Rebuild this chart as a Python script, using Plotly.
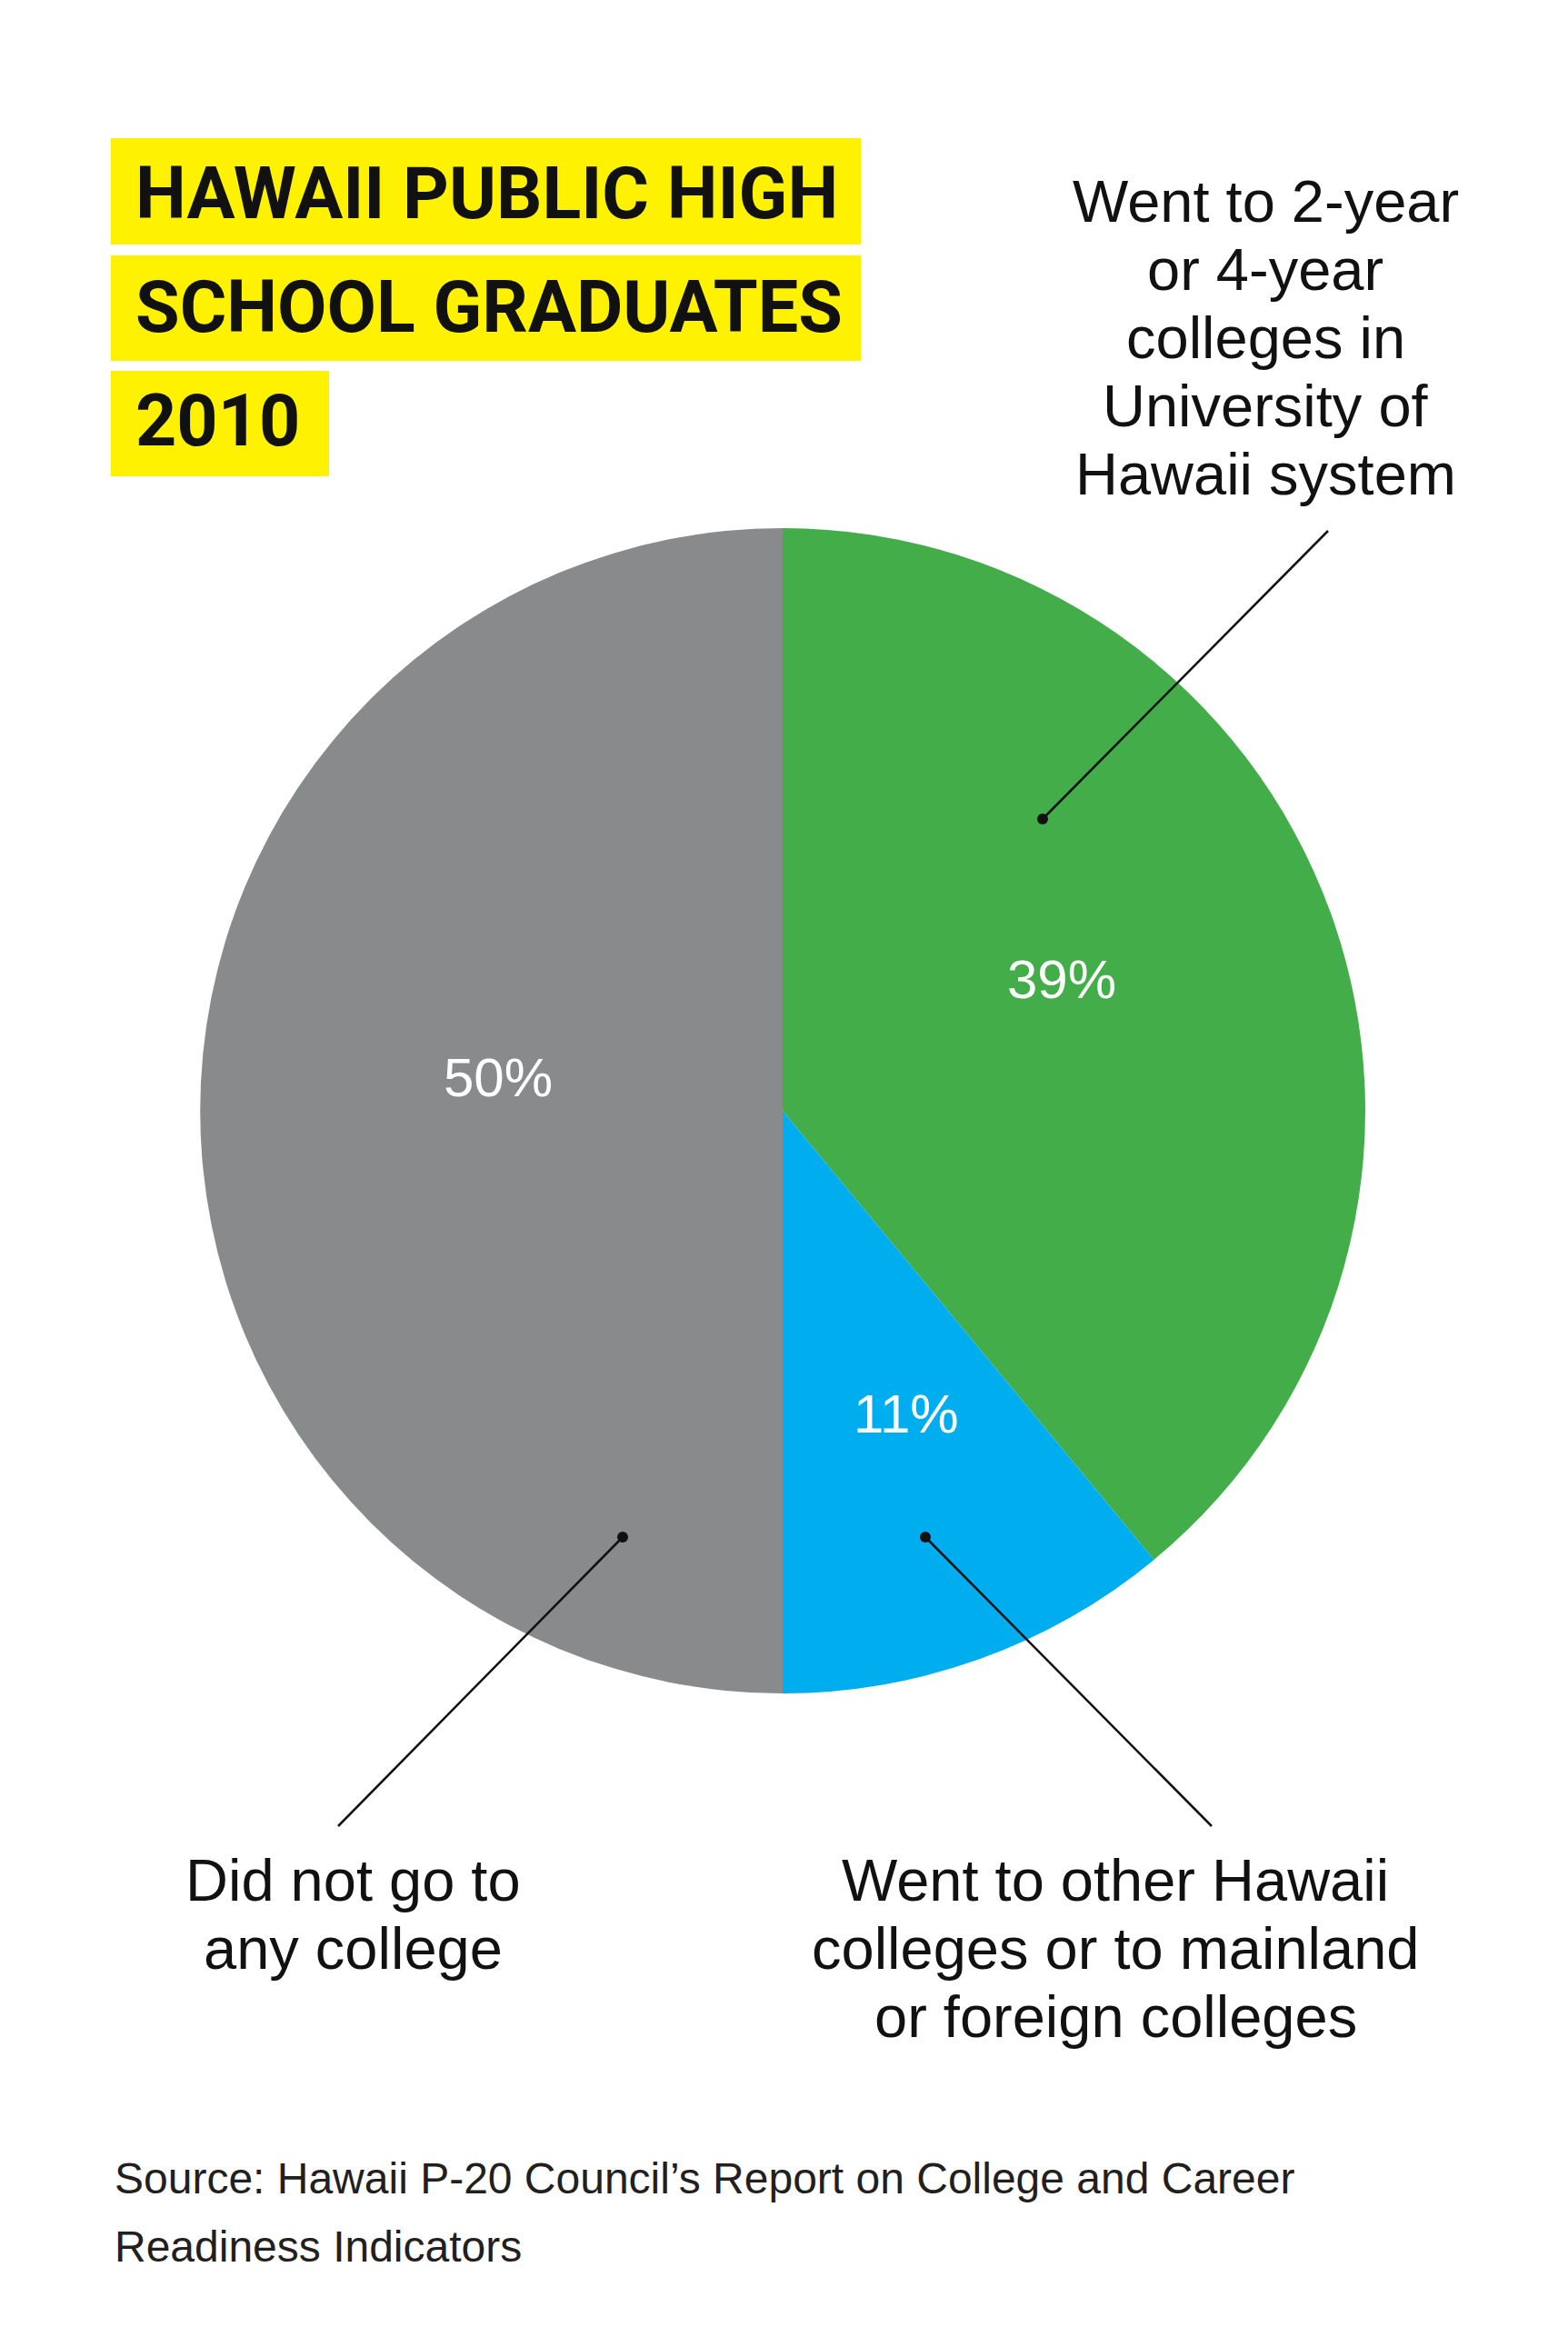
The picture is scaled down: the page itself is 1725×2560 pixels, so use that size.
import plotly.graph_objects as go

W, H = 1725, 2560

# ---- data ----
categories = [
    "Went to 2-year or 4-year colleges in University of Hawaii system",
    "Went to other Hawaii colleges or to mainland or foreign colleges",
    "Did not go to any college",
]
shares = [39, 11, 50]
colors = ["#43AD4A", "#00AEEF", "#898A8C"]
pct_labels = ["39%", "11%", "50%"]

title_lines = ["HAWAII PUBLIC HIGH", "SCHOOL GRADUATES", "2010"]
label_green = ["Went to 2-year", "or 4-year", "colleges in", "University of", "Hawaii system"]
label_blue = ["Went to other Hawaii", "colleges or to mainland", "or foreign colleges"]
label_gray = ["Did not go to", "any college"]
source_lines = ["Source: Hawaii P-20 Council\u2019s Report on College and Career",
                "Readiness Indicators"]


def px(x, y):
    return x / W, 1 - y / H


# pie geometry (pixels)
cx, cy, R = 861, 1222, 641

fig = go.Figure()
fig.add_trace(go.Pie(
    labels=categories,
    values=shares,
    marker=dict(colors=colors, line=dict(width=0)),
    sort=False,
    direction="clockwise",
    rotation=0,
    textinfo="none",
    hoverinfo="label+percent",
    showlegend=False,
    domain=dict(x=[(cx - R) / W, (cx + R) / W], y=[1 - (cy + R) / H, 1 - (cy - R) / H]),
))

shapes = []
annotations = []

# yellow title boxes
boxes = [(122, 152, 947, 269), (122, 281, 947, 397), (122, 408, 362, 524)]
for (x0, y0, x1, y1) in boxes:
    a0, b0 = px(x0, y0)
    a1, b1 = px(x1, y1)
    shapes.append(dict(type="rect", xref="paper", yref="paper", x0=a0, x1=a1, y0=b1, y1=b0,
                       fillcolor="#FFF200", line=dict(width=0), layer="below"))

title_font = dict(family="Roboto, Liberation Sans, sans-serif",
                  size=79, color="#111111", weight="bold")
for line, yc in zip(title_lines, [213, 338, 463]):
    x, y = px(147, yc)
    annotations.append(dict(text=line, x=x, y=y, xref="paper", yref="paper",
                            xanchor="left", yanchor="middle", showarrow=False, font=title_font))

lab_font = dict(family="Liberation Sans, Arial, sans-serif", size=65, color="#111111")


def add_lines(lines, xc, y_first, step=75):
    for i, line in enumerate(lines):
        x, y = px(xc, y_first + i * step)
        annotations.append(dict(text=line, x=x, y=y, xref="paper", yref="paper",
                                xanchor="center", yanchor="middle", showarrow=False, font=lab_font))


add_lines(label_green, 1392, 222)
add_lines(label_gray, 388, 2068)
add_lines(label_blue, 1227, 2068)

# percentage labels
pct_pos = [(1168, 1077), (997, 1555), (548, 1185)]
for t, (x0, y0) in zip(pct_labels, pct_pos):
    x, y = px(x0, y0)
    annotations.append(dict(text=t, x=x, y=y, xref="paper", yref="paper",
                            xanchor="center", yanchor="middle", showarrow=False,
                            font=dict(family="Liberation Sans, Arial, sans-serif", size=60, color="white")))

# leader lines with dots
leaders = [((1147, 901), (1461, 584)), ((1018, 1691), (1333, 2009)), ((685, 1691), (372, 2009))]
for (d, e) in leaders:
    a0, b0 = px(*d)
    a1, b1 = px(*e)
    shapes.append(dict(type="line", xref="paper", yref="paper", x0=a0, y0=b0, x1=a1, y1=b1,
                       line=dict(color="#111111", width=2.5)))
    r = 6
    c0 = px(d[0] - r, d[1] + r)
    c1 = px(d[0] + r, d[1] - r)
    shapes.append(dict(type="circle", xref="paper", yref="paper", x0=c0[0], y0=c0[1], x1=c1[0], y1=c1[1],
                       fillcolor="#111111", line=dict(width=0)))

# source
src_font = dict(family="Liberation Sans, Arial, sans-serif", size=48, color="#231F20")
for line, yc in zip(source_lines, [2396, 2471]):
    x, y = px(124, yc)
    annotations.append(dict(text=line, x=x, y=y, xref="paper", yref="paper",
                            xanchor="left", yanchor="middle", showarrow=False, font=src_font))

fig.update_layout(
    width=W, height=H, autosize=False,
    margin=dict(l=0, r=0, t=0, b=0),
    paper_bgcolor="white", plot_bgcolor="white",
    shapes=shapes, annotations=annotations,
)

fig.write_html("out.html")
